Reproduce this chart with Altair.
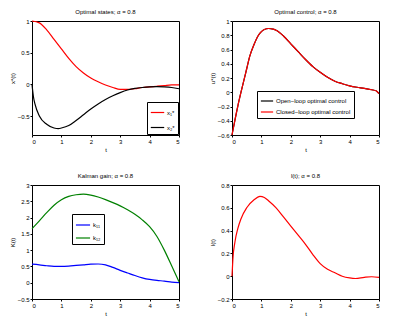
import altair as alt
import pandas as pd

# ---- Panel 1: optimal states ----
t_x1 = [0, 0.25, 0.5, 0.75, 1, 1.25, 1.5, 1.75, 2, 2.25, 2.5, 2.75, 3, 3.25, 3.5, 3.75, 4, 4.25, 4.5, 4.75, 5]
x1 = [1.0, 0.97, 0.86, 0.71, 0.56, 0.41, 0.28, 0.18, 0.1, 0.04, -0.01, -0.05, -0.08, -0.08, -0.07, -0.05, -0.04, -0.03, -0.02, -0.01, -0.01]
t_x2 = [0, 0.05, 0.1, 0.25, 0.5, 0.75, 0.9, 1, 1.25, 1.5, 1.75, 2, 2.25, 2.5, 2.75, 3, 3.25, 3.5, 3.75, 4, 4.25, 4.5, 4.75, 5]
x2 = [0.0, -0.2, -0.31, -0.5, -0.63, -0.69, -0.7, -0.69, -0.65, -0.57, -0.48, -0.39, -0.31, -0.24, -0.18, -0.13, -0.09, -0.065, -0.05, -0.04, -0.035, -0.04, -0.05, -0.07]

# ---- Panel 2: optimal control ----
t_u = [0, 0.1, 0.2, 0.3, 0.4, 0.5, 0.6, 0.75, 0.9, 1, 1.1, 1.25, 1.4, 1.5, 1.75, 2, 2.25, 2.5, 2.75, 3, 3.25, 3.5, 3.75, 4, 4.25, 4.5, 4.75, 4.9, 5]
u_open = [-0.6, -0.39, -0.19, -0.01, 0.16, 0.33, 0.5, 0.67, 0.8, 0.85, 0.88, 0.895, 0.885, 0.87, 0.79, 0.68, 0.57, 0.46, 0.36, 0.28, 0.21, 0.155, 0.12, 0.09, 0.07, 0.055, 0.035, 0.02, -0.02]
u_closed = [-0.6, -0.39, -0.19, -0.01, 0.16, 0.33, 0.5, 0.67, 0.8, 0.85, 0.88, 0.895, 0.885, 0.87, 0.79, 0.68, 0.57, 0.46, 0.36, 0.28, 0.21, 0.155, 0.12, 0.09, 0.07, 0.055, 0.035, 0.02, -0.02]

# ---- Panel 3: Kalman gain ----
t_k = [0, 0.25, 0.5, 0.75, 1, 1.25, 1.5, 1.75, 2, 2.25, 2.5, 2.75, 3, 3.25, 3.5, 3.75, 4, 4.25, 4.5, 4.75, 5]
k11 = [0.57, 0.55, 0.52, 0.5, 0.5, 0.51, 0.53, 0.55, 0.57, 0.575, 0.55, 0.47, 0.38, 0.3, 0.22, 0.15, 0.1, 0.07, 0.05, 0.02, 0.0]
k12 = [1.66, 1.9, 2.15, 2.38, 2.55, 2.65, 2.7, 2.72, 2.69, 2.63, 2.55, 2.46, 2.36, 2.24, 2.1, 1.93, 1.72, 1.42, 1.0, 0.52, 0.03]

# ---- Panel 4: l(t) ----
t_l = [0, 0.03, 0.1, 0.2, 0.3, 0.5, 0.75, 0.95, 1.1, 1.25, 1.5, 1.75, 2, 2.25, 2.5, 2.75, 3, 3.25, 3.5, 3.75, 4, 4.2, 4.5, 4.75, 5]
l_vals = [0.0, 0.15, 0.3, 0.42, 0.5, 0.6, 0.67, 0.7, 0.69, 0.66, 0.6, 0.52, 0.44, 0.36, 0.28, 0.19, 0.11, 0.06, 0.03, 0.0, -0.015, -0.02, -0.01, -0.005, -0.01]

FONT = "Liberation Sans"
W, H = 147, 114


def frame(ts, ys, name):
    return pd.DataFrame({"t": ts, "v": ys, "s": [name] * len(ts)})


def xaxis():
    return alt.X("t:Q", scale=alt.Scale(domain=[0, 5], nice=False),
                 axis=alt.Axis(values=[0, 1, 2, 3, 4, 5], title="t", format="~g"))


def yaxis(title, dom, vals):
    return alt.Y("v:Q", scale=alt.Scale(domain=dom, nice=False, zero=False),
                 axis=alt.Axis(values=vals, title=title, format="~g"))


def legend(x, y, rowpad, symsize):
    return alt.Legend(orient="none", legendX=x, legendY=y, title=None,
                      strokeColor="black", fillColor="white", padding=3,
                      symbolType="stroke", symbolSize=symsize, symbolStrokeWidth=1.2,
                      labelFontSize=6, labelFont=FONT, rowPadding=rowpad, labelOffset=2)


def ttl(text):
    return alt.TitleParams(text=text, fontSize=6, font=FONT, fontWeight="normal", offset=3)


n1 = ["x\u2081*", "x\u2082*"]
df1 = pd.concat([frame(t_x1, x1, n1[0]), frame(t_x2, x2, n1[1])])
p1 = alt.Chart(df1).mark_line(strokeWidth=1.2, interpolate="monotone").encode(
    x=xaxis(), y=yaxis("x*(t)", [-0.8, 1], [-0.5, 0, 0.5, 1]),
    color=alt.Color("s:N", scale=alt.Scale(domain=n1, range=["#ff0000", "#000000"]),
                    legend=legend(115, 81, 4, 180)),
    detail="s:N",
).properties(width=W, height=H, title=ttl("Optimal states; \u03b1 = 0.8"))

n2 = ["Open\u2212loop optimal control", "Closed\u2212loop optimal control"]
df2 = pd.concat([frame(t_u, u_open, n2[0]), frame(t_u, u_closed, n2[1])])
p2 = alt.Chart(df2).mark_line(strokeWidth=1.2, interpolate="monotone").encode(
    x=xaxis(), y=yaxis("u*(t)", [-0.6, 1], [-0.6, -0.4, -0.2, 0, 0.2, 0.4, 0.6, 0.8, 1]),
    color=alt.Color("s:N", scale=alt.Scale(domain=n2, range=["#000000", "#ff0000"]),
                    legend=legend(25, 70, 1, 150)),
    order=alt.Order("s:N", sort="ascending"),
).properties(width=W, height=H, title=ttl("Optimal control; \u03b1 = 0.8"))

n3 = ["k\u2081\u2081", "k\u2081\u2082"]
df3 = pd.concat([frame(t_k, k11, n3[0]), frame(t_k, k12, n3[1])])
p3 = alt.Chart(df3).mark_line(strokeWidth=1.2, interpolate="monotone").encode(
    x=xaxis(), y=yaxis("K(t)", [-0.5, 3], [-0.5, 0, 0.5, 1, 1.5, 2, 2.5, 3]),
    color=alt.Color("s:N", scale=alt.Scale(domain=n3, range=["#0000ff", "#008000"]),
                    legend=legend(40, 29, 2, 200)),
).properties(width=W, height=H, title=ttl("Kalman gain; \u03b1 = 0.8"))

df4 = frame(t_l, l_vals, "l")
p4 = alt.Chart(df4).mark_line(strokeWidth=1.2, interpolate="monotone", color="#ff0000").encode(
    x=xaxis(), y=yaxis("l(t)", [-0.2, 0.8], [-0.2, 0, 0.2, 0.4, 0.6, 0.8]),
).properties(width=W, height=H, title=ttl("l(t); \u03b1 = 0.8"))

row1 = alt.hconcat(p1, p2, spacing=26).resolve_scale(color="independent")
row2 = alt.hconcat(p3, p4, spacing=26).resolve_scale(color="independent")

chart = alt.vconcat(row1, row2, spacing=19).resolve_scale(color="independent").properties(
    padding=0, background="white"
).configure_view(
    stroke="black", strokeWidth=1
).configure_axis(
    grid=False, domain=False, ticks=True, tickSize=2, tickColor="black",
    labelFont=FONT, labelFontSize=6, labelColor="black", labelPadding=1,
    titleFont=FONT, titleFontSize=6, titleFontWeight="normal", titleColor="black", titlePadding=2,
)

chart.save("out.html", embed_options={"renderer": "svg", "actions": False})
